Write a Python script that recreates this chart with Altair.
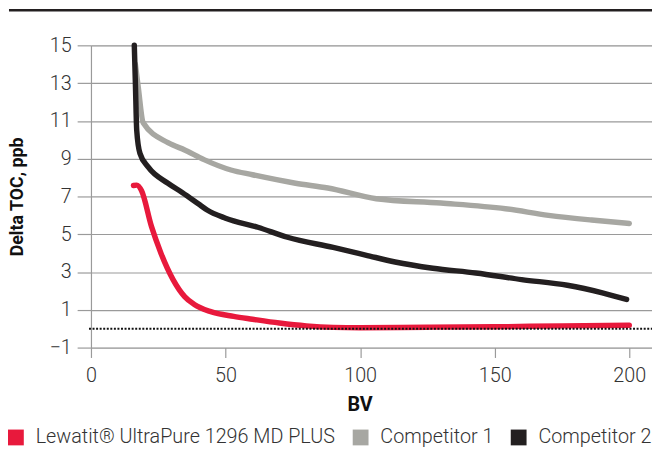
import altair as alt
import pandas as pd

# Lewatit UltraPure 1296 MD PLUS
red_bv = [15.8, 17.0, 18.8, 22.5, 26, 30.5, 34.8, 38.4, 44.5, 53, 60, 70, 80, 90, 100, 125, 150, 175, 200]
red_toc = [7.58, 7.6, 7.3, 5.4, 4.0, 2.6, 1.7, 1.28, 0.9, 0.65, 0.5, 0.3, 0.15, 0.07, 0.05, 0.08, 0.1, 0.15, 0.18]

# Competitor 1
grey_bv = [16.5, 17.6, 19.4, 28.6, 35, 42, 52, 60, 76, 88, 106, 130, 154, 170, 186, 200]
grey_toc = [14.0, 12.75, 10.9, 9.85, 9.45, 8.95, 8.4, 8.15, 7.7, 7.45, 6.88, 6.65, 6.35, 6.0, 5.75, 5.57]

# Competitor 2
black_bv = [16.1, 16.5, 17.0, 18.2, 21.3, 28.6, 34, 40, 43, 50, 62, 73, 90, 102, 113, 127, 143, 160, 177, 190, 199]
black_toc = [15.0, 13.0, 10.5, 9.28, 8.55, 7.7, 7.2, 6.6, 6.3, 5.85, 5.37, 4.84, 4.3, 3.9, 3.53, 3.2, 2.95, 2.6, 2.3, 1.9, 1.55]

series = ["Lewatit® UltraPure 1296 MD PLUS", "Competitor 1", "Competitor 2"]
colors = ["#E8193C", "#A7A7A2", "#231F20"]
x_ticks = [0, 50, 100, 150, 200]
y_ticks = [-1, 1, 3, 5, 7, 9, 11, 13, 15]
baseline_value = [0]

rows = []
for s, bvs, tocs, order in [(series[1], grey_bv, grey_toc, 0),
                            (series[2], black_bv, black_toc, 1),
                            (series[0], red_bv, red_toc, 2)]:
    for b, t in zip(bvs, tocs):
        rows.append({"series": s, "BV": b, "TOC": t, "order": order})
df = pd.DataFrame(rows)

FONT = "Roboto"
GRID = "#9A9A9A"
W, H = 568, 306

xscale = alt.Scale(domain=[0, W / 2.725], nice=False, zero=False)
yscale = alt.Scale(domain=[-1, 15], nice=False, zero=False)

x_axis = alt.Axis(values=x_ticks, grid=False, domain=False, tickSize=10,
                  tickColor=GRID, tickWidth=1.2, labelPadding=8,
                  labelFlush=False, labelOverlap=False,
                  labelFontSize=20, labelColor="#333333", labelFont=FONT,
                  labelFontWeight=300,
                  title="BV", titleFont=FONT, titleFontSize=20,
                  titleFontWeight="bold", titleColor="#111111",
                  titleX=272, titleY=64, titleBaseline="alphabetic")
y_axis = alt.Axis(values=y_ticks, grid=True, gridColor=GRID, gridWidth=1.2,
                  domain=True, domainColor=GRID, domainWidth=1.2,
                  tickSize=14, tickColor=GRID, tickWidth=1.2,
                  labelPadding=6, labelFontSize=20, labelColor="#333333",
                  labelFont=FONT, labelFontWeight=300, labelOverlap=False,
                  labelFlush=False,
                  title="Delta TOC, ppb", titleFont=FONT, titleFontSize=18,
                  titleFontWeight="bold", titleColor="#111111",
                  titleX=-74, titleY=H / 2, titleBaseline="middle",
                  titleAngle=270)

lines = alt.Chart(df).mark_line(strokeWidth=5.5, strokeCap="round", strokeJoin="round",
                                interpolate="monotone").encode(
    x=alt.X("BV:Q", scale=xscale, axis=x_axis),
    y=alt.Y("TOC:Q", scale=yscale, axis=y_axis),
    color=alt.Color("series:N",
                    scale=alt.Scale(domain=series, range=colors),
                    legend=alt.Legend(title=None, orient="none", direction="horizontal",
                                      legendX=-86, legendY=387,
                                      symbolType="square", symbolSize=64,
                                      symbolStrokeWidth=8, symbolOpacity=1,
                                      labelFont=FONT, labelFontSize=20,
                                      labelFontWeight=300, labelColor="#333333",
                                      labelOffset=10, columnPadding=5,
                                      labelLimit=500)),
    detail="series:N",
    order=alt.Order("order:Q"),
)

zero = alt.Chart(pd.DataFrame({"TOC": baseline_value})).mark_rule(
    color="#111111", strokeWidth=2, strokeDash=[2, 1.6]
).encode(y=alt.Y("TOC:Q", scale=yscale, axis=y_axis), x=alt.value(-2), x2=alt.value(W))

top_rule = alt.Chart(pd.DataFrame({"TOC": baseline_value})).mark_rule(
    color="#231F20", strokeWidth=2.5
).encode(x=alt.value(-83), x2=alt.value(W), y=alt.value(-35.5))

chart = alt.layer(lines, zero, top_rule).properties(
    width=W, height=H,
    autosize=alt.AutoSizeParams(type="none"),
    padding={"left": 84, "top": 35, "right": 0, "bottom": 110},
).configure_view(stroke=None).configure(font=FONT)

chart.save("out.html", embed_options={"renderer": "svg", "actions": False})
